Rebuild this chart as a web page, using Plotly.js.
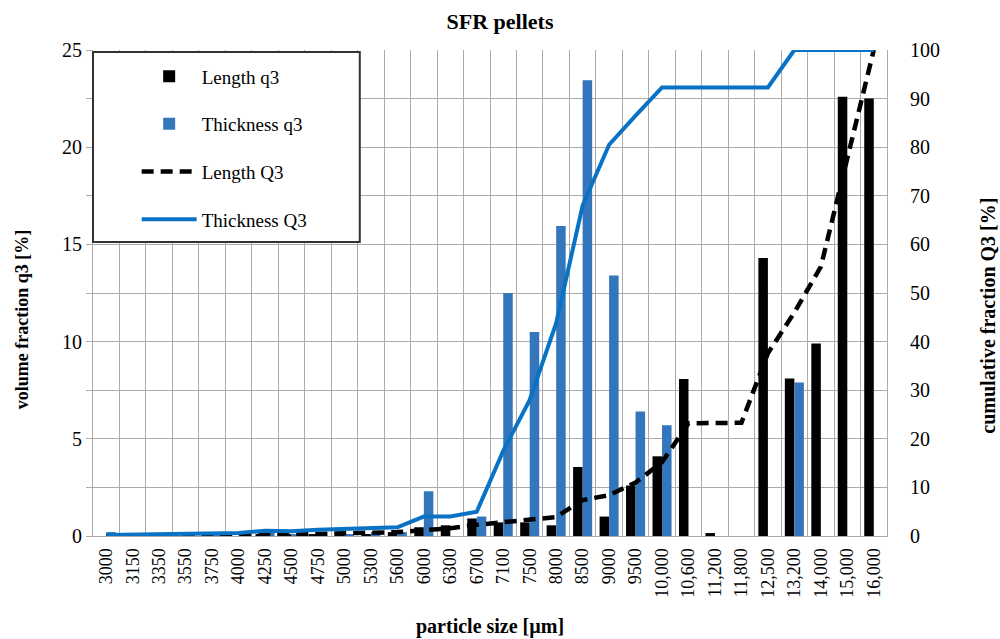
<!DOCTYPE html>
<html>
<head>
<meta charset="utf-8">
<script src="https://cdn.plot.ly/plotly-3.0.1.min.js"></script>
<style>html,body{margin:0;padding:0;background:#fff;}#chart{width:1000px;height:639px;}</style>
</head>
<body>
<div id="chart"></div>
<script>
const sizes = ['3000','3150','3350','3550','3750','4000','4250','4500','4750','5000','5300','5600','6000','6300','6700','7100','7500','8000','8500','9000','9500','10,000','10,600','11,200','11,800','12,500','13,200','14,000','15,000','16,000'];
const lengthQ3small = [0,0,0,0,0,0,0.1,0.1,0.1,0.1,0.1,0.2,0.45,0.55,0.9,0.7,0.7,0.55,3.55,1.0,2.6,4.1,8.07,0.15,0,14.3,8.1,9.9,22.6,22.5];
const thicknessQ3small = [0.2,0.1,0.1,0.05,0.1,0.1,0.3,0.1,0.2,0.1,0.2,0.2,2.3,0,1.0,12.5,10.5,15.95,23.45,13.4,6.4,5.7,0,0,0,0,7.9,0,0,0];
const lengthQ3cum = [0,0,0,0,0,0.1,0.2,0.3,0.4,0.5,0.6,0.8,1.2,1.6,2.3,2.9,3.4,3.9,7.4,8.4,11.0,15.2,23.2,23.3,23.3,37.6,46.0,55.4,78.0,100];
const thicknessQ3cum = [0.2,0.3,0.4,0.4,0.5,0.6,1.1,1.0,1.3,1.4,1.6,1.8,4.0,4.0,5.0,17.5,28.0,43.8,68.0,80.5,86.5,92.3,92.3,92.3,92.3,92.3,100,100,100,100];

const serif = 'Liberation Serif, Times New Roman, serif';
const gridc = '#ABABAB';

const traces = [
  {type:'bar', name:'Length q3', x:sizes, y:lengthQ3small, marker:{color:'#000000'}, legendgroup:'a', yaxis:'y'},
  {type:'bar', name:'Thickness q3', x:sizes, y:thicknessQ3small, marker:{color:'#3476BC'}, legendgroup:'b', yaxis:'y'},
  {type:'scatter', mode:'lines', name:'Length Q3', x:sizes, y:lengthQ3cum, line:{color:'#000000', width:4.5, dash:'12px,7px'}, legendgroup:'c', yaxis:'y2'},
  {type:'scatter', mode:'lines', name:'Thickness Q3', x:sizes, y:thicknessQ3cum, line:{color:'#0A72C4', width:4}, legendgroup:'d', yaxis:'y2'}
];

const layout = {
  width:1000, height:639,
  margin:{l:93, r:113, t:50, b:103},
  paper_bgcolor:'#fff', plot_bgcolor:'#fff',
  font:{family:serif, color:'#000', size:16},
  title:{text:'<b>SFR pellets</b>', x:0.5, xanchor:'center', y:0.966, yanchor:'middle', font:{family:serif, size:22, color:'#000'}},
  barmode:'group', bargap:0.28, bargroupgap:0,
  showlegend:true,
  legend:{x:0.055, y:0.985, xanchor:'left', yanchor:'top', bgcolor:'rgba(0,0,0,0)', borderwidth:0,
          font:{family:serif, size:19, color:'#000'}, traceorder:'grouped', tracegroupgap:20, itemwidth:55},
  xaxis:{type:'category', tickson:'boundaries', showgrid:true, gridcolor:gridc, gridwidth:1,
         showline:true, linecolor:gridc, ticks:'', tickangle:-90, tickfont:{family:serif, size:18},
         ticklabelstandoff:4, fixedrange:true},
  yaxis:{range:[0,25], dtick:5, showgrid:true, gridcolor:gridc, gridwidth:1, zeroline:false,
         showline:true, linecolor:gridc, ticks:'outside', ticklen:6, tickcolor:gridc,
         minor:{dtick:2.5, showgrid:true, gridcolor:gridc, ticks:'outside', ticklen:6, tickcolor:gridc},
         tickfont:{family:serif, size:20}},
  yaxis2:{range:[0,100], dtick:10, overlaying:'y', side:'right', showgrid:false, zeroline:false,
          showline:true, linecolor:gridc, ticks:'', ticklabelstandoff:18,
          tickfont:{family:serif, size:20}},
  annotations:[
    {text:'<b>volume fraction q3 [%]</b>', xref:'paper', yref:'paper', x:-0.0894, y:0.444, textangle:-90,
     showarrow:false, xanchor:'center', yanchor:'middle', font:{family:serif, size:18, color:'#000'}},
    {text:'<b>cumulative fraction Q3 [%]</b>', xref:'paper', yref:'paper', x:1.127, y:0.453, textangle:-90,
     showarrow:false, xanchor:'center', yanchor:'middle', font:{family:serif, size:20, color:'#000'}},
    {text:'<b>particle size [µm]</b>', xref:'paper', yref:'paper', x:0.5, y:-0.187,
     showarrow:false, xanchor:'center', yanchor:'middle', font:{family:serif, size:20, color:'#000'}}
  ],
  shapes:[{type:'rect', xref:'paper', yref:'paper', x0:0.0, x1:0.336, y0:0.605, y1:0.996,
           fillcolor:'#ffffff', line:{color:'#333333', width:2}, layer:'above'}]
};

Plotly.newPlot('chart', traces, layout, {displayModeBar:false, staticPlot:true});
</script>
</body>
</html>
